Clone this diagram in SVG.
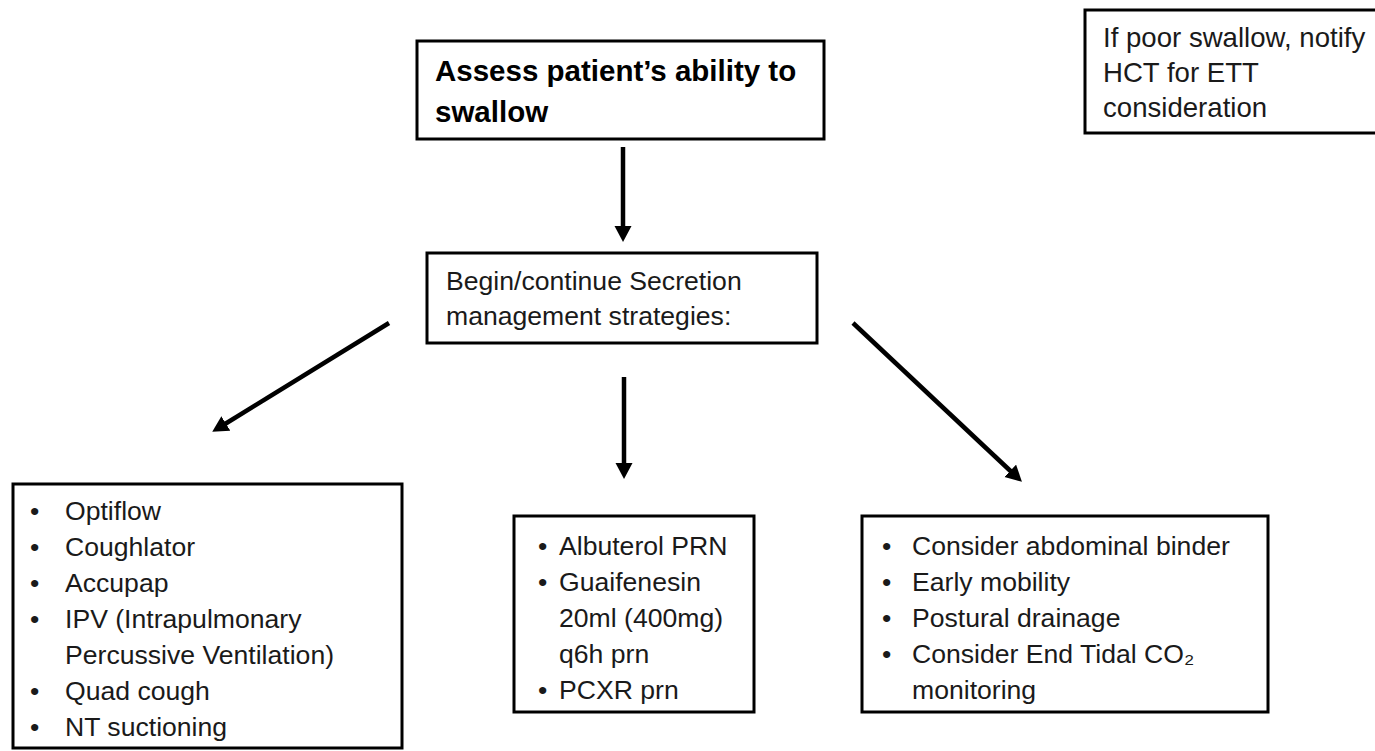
<svg xmlns="http://www.w3.org/2000/svg" width="1375" height="751" viewBox="0 0 1375 751">
<defs>
<style>
.box{fill:#fff;stroke:#000;stroke-width:3}
.t{font-family:"Liberation Sans",Arial,sans-serif;font-size:26.6px;fill:#1a1a1a}
.n{font-size:27.6px}
.b{font-family:"Liberation Sans",Arial,sans-serif;font-size:29.5px;font-weight:bold;fill:#000}
.conn{stroke:#000;stroke-width:4.5;fill:none;marker-end:url(#ah)}
</style>
<marker id="ah" markerUnits="userSpaceOnUse" markerWidth="18" markerHeight="18" refX="1" refY="8.5" orient="auto">
<path d="M0,0 L16,8.5 L0,17 z" fill="#000"/>
</marker>
</defs>
<rect width="1375" height="751" fill="#fff"/>
<g id="connectors">
<line class="conn" x1="623" y1="147" x2="623" y2="227"/>
<line class="conn" x1="624" y1="377" x2="624" y2="464"/>
<line class="conn" x1="389" y1="323" x2="225" y2="424"/>
<line class="conn" x1="853" y1="323" x2="1011" y2="471.5"/>
</g>
<g id="assess">
<rect class="box" x="417" y="41" width="407" height="98"/>
<text class="b" x="435" y="81">Assess patient’s ability to</text>
<text class="b" x="435" y="122">swallow</text>
</g>
<g id="note">
<rect class="box" x="1085" y="10" width="310" height="123"/>
<text class="t n" x="1103" y="47">If poor swallow, notify</text>
<text class="t n" x="1103" y="82">HCT for ETT</text>
<text class="t n" x="1103" y="117">consideration</text>
</g>
<g id="secretion">
<rect class="box" x="427" y="253" width="390" height="90"/>
<text class="t" x="446" y="290">Begin/continue Secretion</text>
<text class="t" x="446" y="325">management strategies:</text>
</g>
<g id="devices">
<rect class="box" x="13" y="484" width="389" height="264"/>
<text class="t" x="30" y="520">•</text><text class="t" x="65" y="520">Optiflow</text>
<text class="t" x="30" y="556">•</text><text class="t" x="65" y="556">Coughlator</text>
<text class="t" x="30" y="592">•</text><text class="t" x="65" y="592">Accupap</text>
<text class="t" x="30" y="628">•</text><text class="t" x="65" y="628">IPV (Intrapulmonary</text>
<text class="t" x="65" y="664">Percussive Ventilation)</text>
<text class="t" x="30" y="700">•</text><text class="t" x="65" y="700">Quad cough</text>
<text class="t" x="30" y="736">•</text><text class="t" x="65" y="736">NT suctioning</text>
</g>
<g id="meds">
<rect class="box" x="514" y="516" width="240" height="196"/>
<text class="t" x="538" y="555">•</text><text class="t" x="559" y="555">Albuterol PRN</text>
<text class="t" x="538" y="591">•</text><text class="t" x="559" y="591">Guaifenesin</text>
<text class="t" x="559" y="627">20ml (400mg)</text>
<text class="t" x="559" y="663">q6h prn</text>
<text class="t" x="538" y="699">•</text><text class="t" x="559" y="699">PCXR prn</text>
</g>
<g id="mobility">
<rect class="box" x="862" y="516" width="406" height="196"/>
<text class="t" x="882" y="555">•</text><text class="t" x="912" y="555">Consider abdominal binder</text>
<text class="t" x="882" y="591">•</text><text class="t" x="912" y="591">Early mobility</text>
<text class="t" x="882" y="627">•</text><text class="t" x="912" y="627">Postural drainage</text>
<text class="t" x="882" y="663">•</text><text class="t" x="912" y="663">Consider End Tidal CO₂</text>
<text class="t" x="912" y="699">monitoring</text>
</g>
</svg>
